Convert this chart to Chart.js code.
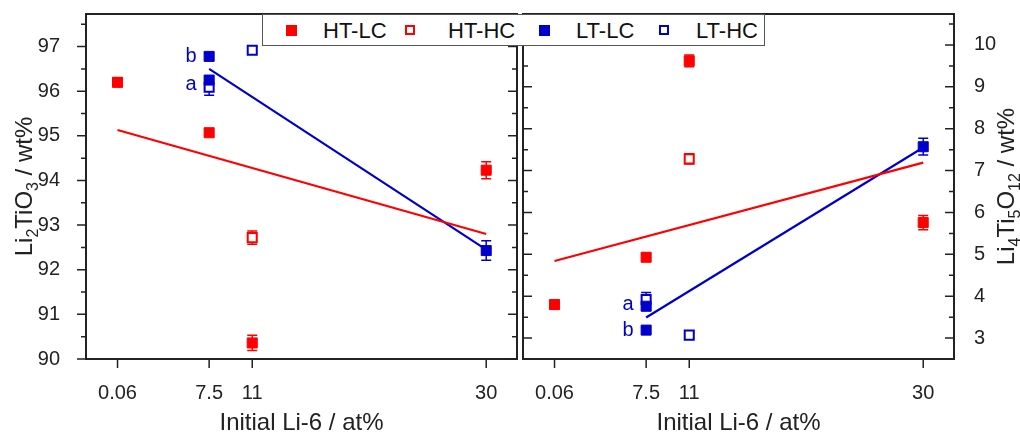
<!DOCTYPE html>
<html>
<head>
<meta charset="utf-8">
<script src="https://cdn.jsdelivr.net/npm/chart.js@4.4.1/dist/chart.umd.min.js"></script>
<style>
  body { margin: 0; background: #fff; font-family: "Liberation Sans", Arial, sans-serif; }
  #wrap { position: relative; width: 1020px; height: 433px; overflow: hidden; }
  #c1 { position: absolute; left: 0; top: 0; }
  #c2 { position: absolute; left: 520px; top: 0; }
  #legend { position: absolute; left: 262px; top: 14px; width: 503px; height: 32px; box-sizing: border-box;
            border: 1px solid #555; background: #fff; }
  #legend .mk { position: absolute; top: 10px; box-sizing: border-box; }
  #legend .tx { position: absolute; top: 0; line-height: 31px; font-size: 22px; color: #111; }
</style>
</head>
<body>
<div id="wrap">
  <canvas id="c1" width="520" height="433"></canvas>
  <canvas id="c2" width="500" height="433"></canvas>
  <div id="legend"></div>
</div>
<script>
const seriesNames = ['HT-LC', 'HT-HC', 'LT-LC', 'LT-HC'];
const red = '#ff0000';
const blue = '#0000cc';

const xTickValues = [0.06, 7.5, 11, 30];
const leftYTicks = [90, 91, 92, 93, 94, 95, 96, 97];
const rightYTicks = [3, 4, 5, 6, 7, 8, 9, 10];

// left panel: Li2TiO3 / wt%
const leftHtlcX = [0.06, 7.5, 11, 30];
const leftHtlcY = [96.20, 95.07, 90.36, 94.23];
const leftHtlcErr = [0.10, 0.07, 0.17, 0.19];
const leftHthcX = [11];
const leftHthcY = [92.72];
const leftHthcErr = [0.15];
const leftLtlcX = [7.5, 7.5, 30];
const leftLtlcY = [96.78, 96.25, 92.43];
const leftLtlcErr = [0.07, 0.07, 0.22];
const leftLthcX = [7.5, 11];
const leftLthcY = [96.09, 96.92];
const leftLthcErr = [0.18, 0.08];
const leftFitHtX = [0.06, 30];
const leftFitHtY = [95.13, 92.80];
const leftFitLtX = [7.5, 30];
const leftFitLtY = [96.50, 92.45];
const leftNotes = ['b', 'a'];
const leftNotesY = [96.77, 96.14];

// right panel: Li4Ti5O12 / wt%
const rightHtlcX = [0.06, 7.5, 11, 30];
const rightHtlcY = [3.80, 4.93, 9.62, 5.76];
const rightHtlcErr = [0.10, 0.07, 0.14, 0.17];
const rightHthcX = [11];
const rightHthcY = [7.28];
const rightHthcErr = [0.12];
const rightLtlcX = [7.5, 7.5, 30];
const rightLtlcY = [3.76, 3.19, 7.57];
const rightLtlcErr = [0.08, 0.07, 0.20];
const rightLthcX = [7.5, 11];
const rightLthcY = [3.92, 3.07];
const rightLthcErr = [0.17, 0.07];
const rightFitHtX = [0.06, 30];
const rightFitHtY = [4.84, 7.19];
const rightFitLtX = [7.5, 30];
const rightFitLtY = [3.49, 7.55];
const rightNotes = ['a', 'b'];
const rightNotesY = [3.81, 3.19];

const FONT = '"Liberation Sans", Arial, sans-serif';
const INK = '#222';

function markerSet(label, xs, ys, errs, color, open) {
  return {
    label: label,
    data: xs.map((x, i) => ({ x: x, y: ys[i] })),
    err: errs,
    pointStyle: 'rect',
    pointRadius: open ? 6.4 : 7.1,
    backgroundColor: open ? '#fff' : color,
    borderColor: color,
    borderWidth: open ? 2 : 1,
    showLine: false,
    order: 0
  };
}

function fitSet(xs, ys, color) {
  return {
    data: xs.map((x, i) => ({ x: x, y: ys[i] })),
    showLine: true,
    borderColor: color,
    borderWidth: 2.2,
    pointRadius: 0,
    order: 1
  };
}

// text with subscripts, rotated -90deg, centred on (cx, cy)
function drawRich(ctx, parts, cx, cy) {
  const big = '24px ' + FONT, small = '16px ' + FONT;
  let total = 0;
  parts.forEach(p => { ctx.font = p[1] ? small : big; total += ctx.measureText(p[0]).width; });
  ctx.save();
  ctx.translate(cx, cy);
  ctx.rotate(-Math.PI / 2);
  ctx.textBaseline = 'alphabetic';
  ctx.textAlign = 'left';
  ctx.fillStyle = INK;
  let x = -total / 2;
  parts.forEach(p => {
    ctx.font = p[1] ? small : big;
    ctx.fillText(p[0], x, p[1] ? 6 : 0);
    x += ctx.measureText(p[0]).width;
  });
  ctx.restore();
}

function decor(cfg) {
  return {
    id: 'decor',
    beforeDatasetsDraw(chart) {
      const ctx = chart.ctx, xs = chart.scales.x, ys = chart.scales.y;
      ctx.save();
      ctx.lineWidth = 1.5;
      chart.data.datasets.forEach(ds => {
        if (!ds.err) return;
        ctx.strokeStyle = ds.borderColor;
        ds.data.forEach((p, i) => {
          const px = xs.getPixelForValue(p.x);
          const y1 = ys.getPixelForValue(p.y - ds.err[i]);
          const y2 = ys.getPixelForValue(p.y + ds.err[i]);
          ctx.beginPath();
          ctx.moveTo(px, y1); ctx.lineTo(px, y2);
          ctx.moveTo(px - 5, y1); ctx.lineTo(px + 5, y1);
          ctx.moveTo(px - 5, y2); ctx.lineTo(px + 5, y2);
          ctx.stroke();
        });
      });
      ctx.restore();
    },
    afterDraw(chart) {
      const ctx = chart.ctx, xs = chart.scales.x, ys = chart.scales.y;
      const { left, right, top, bottom } = chart.chartArea;
      ctx.save();
      ctx.strokeStyle = INK;
      ctx.lineWidth = 2;
      ctx.strokeRect(left, top, right - left, bottom - top);

      // ticks: major 9px, minor 5px
      ctx.lineWidth = 1.5;
      ctx.beginPath();
      cfg.yTicks.forEach(v => {
        [[v, 9], [v + 0.5, 5]].forEach(([val, len]) => {
          if (val >= ys.max) return;
          const py = ys.getPixelForValue(val);
          ctx.moveTo(left, py); ctx.lineTo(left + cfg.leftDir * len, py);
          ctx.moveTo(right, py); ctx.lineTo(right + cfg.rightDir * len, py);
        });
      });
      xTickValues.forEach(v => {
        const px = xs.getPixelForValue(v);
        ctx.moveTo(px, bottom); ctx.lineTo(px, bottom + 9);
      });
      ctx.stroke();

      // a / b notes beside the 7.5 points
      ctx.fillStyle = blue;
      ctx.font = '20px ' + FONT;
      ctx.textAlign = 'center';
      ctx.textBaseline = 'middle';
      cfg.notes.forEach((t, i) => {
        ctx.fillText(t, xs.getPixelForValue(7.5) - 18, ys.getPixelForValue(cfg.notesY[i]));
      });

      // x title
      ctx.fillStyle = INK;
      ctx.font = '24px ' + FONT;
      ctx.textBaseline = 'alphabetic';
      ctx.fillText('Initial Li-6 / at%', (left + right) / 2, 430);
      ctx.restore();

      drawRich(ctx, cfg.yTitle, cfg.yTitleX, (top + bottom) / 2);
    }
  };
}

function noPad(s) {
  s.paddingTop = 0; s.paddingBottom = 0; s.paddingLeft = 0; s.paddingRight = 0;
}

function makeChart(id, datasets, cfg) {
  return new Chart(document.getElementById(id), {
    type: 'scatter',
    data: { datasets: datasets },
    options: {
      responsive: false,
      animation: false,
      events: [],
      layout: { padding: cfg.padding, autoPadding: false },
      plugins: { legend: { display: false }, tooltip: { enabled: false } },
      scales: {
        x: {
          type: 'linear',
          min: -2.5,
          max: 32.5,
          grid: { display: false },
          border: { display: false },
          afterBuildTicks: s => { s.ticks = xTickValues.map(v => ({ value: v })); },
          afterFit: s => { s.height = 74; noPad(s); },
          ticks: { color: INK, font: { family: FONT, size: 20 }, padding: 14,
                   callback: v => String(v) }
        },
        y: {
          type: 'linear',
          position: cfg.yPos,
          min: cfg.yMin,
          max: cfg.yMax,
          grid: { display: false },
          border: { display: false },
          afterBuildTicks: s => { s.ticks = cfg.yTicks.map(v => ({ value: v })); },
          afterFit: s => { s.width = cfg.yWidth; noPad(s); },
          ticks: { color: INK, font: { family: FONT, size: 20 }, padding: cfg.yPad,
                   callback: v => String(v) }
        }
      }
    },
    plugins: [decor(cfg)]
  });
}

makeChart('c1', [
  markerSet('HT-LC', leftHtlcX, leftHtlcY, leftHtlcErr, red, false),
  markerSet('HT-HC', leftHthcX, leftHthcY, leftHthcErr, red, true),
  markerSet('LT-LC', leftLtlcX, leftLtlcY, leftLtlcErr, blue, false),
  markerSet('LT-HC', leftLthcX, leftLthcY, leftLthcErr, blue, true),
  fitSet(leftFitHtX, leftFitHtY, red),
  fitSet(leftFitLtX, leftFitLtY, blue)
], {
  padding: { left: 0, right: 3, top: 14, bottom: 0 },
  yPos: 'left', yMin: 90, yMax: 97.73, yTicks: leftYTicks, yWidth: 86, yPad: 18,
  leftDir: -1, rightDir: -1,
  notes: leftNotes, notesY: leftNotesY,
  yTitle: [['Li', 0], ['2', 1], ['TiO', 0], ['3', 1], [' / wt%', 0]], yTitleX: 32
});

makeChart('c2', [
  markerSet('HT-LC', rightHtlcX, rightHtlcY, rightHtlcErr, red, false),
  markerSet('HT-HC', rightHthcX, rightHthcY, rightHthcErr, red, true),
  markerSet('LT-LC', rightLtlcX, rightLtlcY, rightLtlcErr, blue, false),
  markerSet('LT-HC', rightLthcX, rightLthcY, rightLthcErr, blue, true),
  fitSet(rightFitHtX, rightFitHtY, red),
  fitSet(rightFitLtX, rightFitLtY, blue)
], {
  padding: { left: 3, right: 0, top: 14, bottom: 0 },
  yPos: 'right', yMin: 2.5, yMax: 10.74, yTicks: rightYTicks, yWidth: 66, yPad: 12,
  leftDir: 1, rightDir: -1,
  notes: rightNotes, notesY: rightNotesY,
  yTitle: [['Li', 0], ['4', 1], ['Ti', 0], ['5', 1], ['O', 0], ['12', 1], [' / wt%', 0]], yTitleX: 494
});

// shared legend across both panels
const legendColors = [red, red, blue, blue];
const legendOpen = [false, true, false, true];
const markLeft = [23, 142, 276, 396];
const textLeft = [60, 185, 313, 433];
const legend = document.getElementById('legend');
seriesNames.forEach((name, i) => {
  const mk = document.createElement('span');
  mk.className = 'mk';
  mk.style.left = markLeft[i] + 'px';
  if (legendOpen[i]) {
    mk.style.width = '10px'; mk.style.height = '10px';
    mk.style.border = '2px solid ' + legendColors[i];
  } else {
    mk.style.width = '11px'; mk.style.height = '11px';
    mk.style.background = legendColors[i];
  }
  legend.appendChild(mk);
  const tx = document.createElement('span');
  tx.className = 'tx';
  tx.style.left = textLeft[i] + 'px';
  tx.textContent = name;
  legend.appendChild(tx);
});
</script>
</body>
</html>
